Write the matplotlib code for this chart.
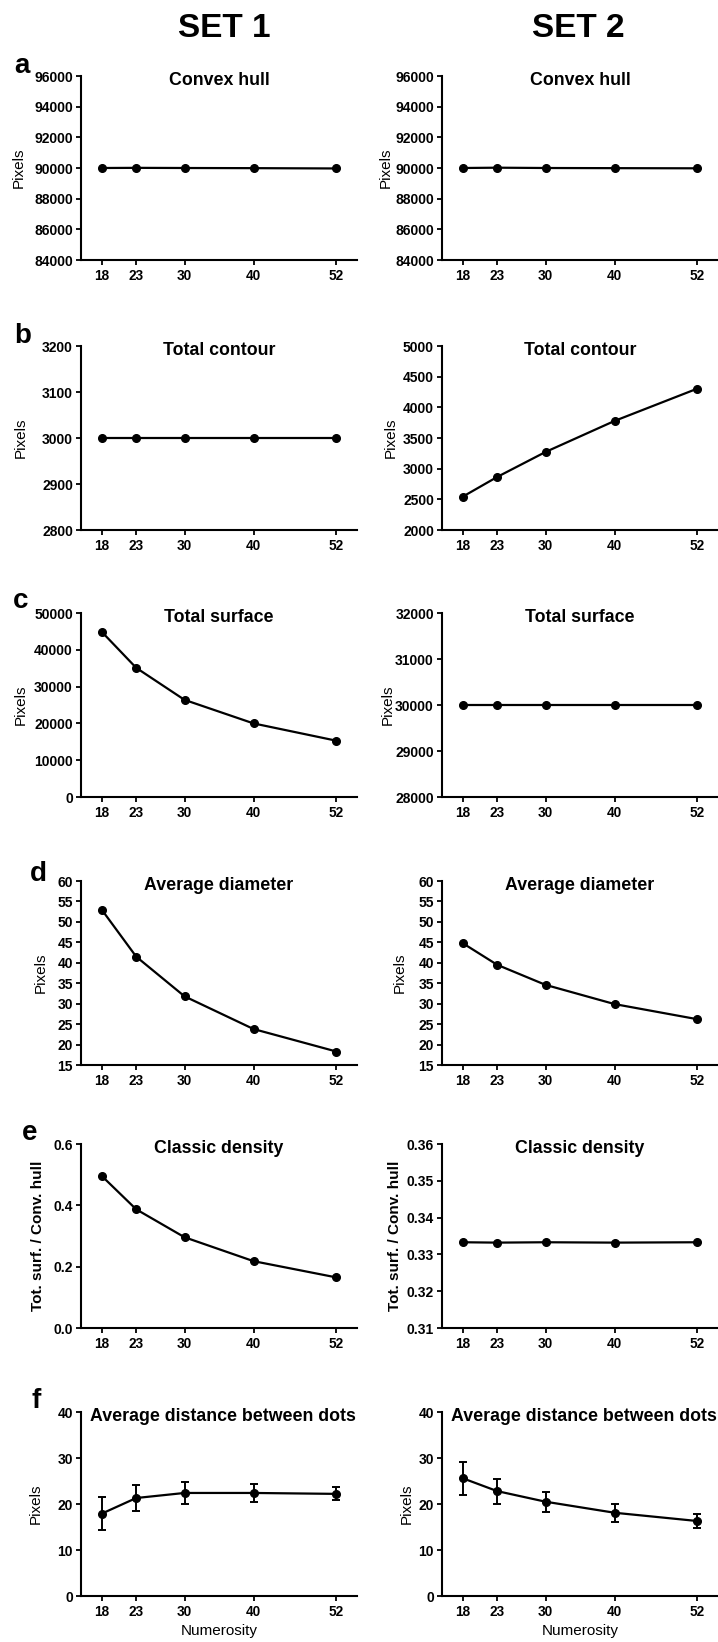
import matplotlib
matplotlib.use('Agg')
import matplotlib.pyplot as plt
from matplotlib.ticker import FormatStrFormatter

# ---- data ----
numerosity = [18, 23, 30, 40, 52]

convex_hull_set1 = [90000, 90010, 90000, 89990, 89970]
convex_hull_set2 = [90000, 90020, 90000, 89990, 89980]

total_contour_set1 = [3000, 3000, 3000, 3000, 3000]
total_contour_set2 = [2543, 2865, 3272, 3778, 4305]

total_surface_set1 = [44900, 35100, 26400, 20000, 15300]
total_surface_set2 = [30000, 30000, 30000, 30000, 30000]

avg_diameter_set1 = [53.0, 41.5, 31.8, 23.8, 18.3]
avg_diameter_set2 = [44.8, 39.5, 34.6, 29.9, 26.2]

density_set1 = [0.496, 0.387, 0.296, 0.218, 0.165]
density_set2 = [0.3333, 0.3332, 0.3333, 0.3332, 0.3333]

distance_set1 = [17.9, 21.3, 22.4, 22.4, 22.2]
distance_set1_err = [3.65, 2.9, 2.4, 2.05, 1.4]
distance_set2 = [25.6, 22.8, 20.5, 18.1, 16.3]
distance_set2_err = [3.6, 2.7, 2.2, 2.0, 1.6]

titles = ["Convex hull", "Total contour", "Total surface",
          "Average diameter", "Classic density", "Average distance between dots"]
panel_letters = ["a", "b", "c", "d", "e", "f"]
ylabels = ["Pixels", "Pixels", "Pixels", "Pixels", "Tot. surf. / Conv. hull", "Pixels"]

set1_values = [convex_hull_set1, total_contour_set1, total_surface_set1,
               avg_diameter_set1, density_set1, distance_set1]
set2_values = [convex_hull_set2, total_contour_set2, total_surface_set2,
               avg_diameter_set2, density_set2, distance_set2]
set1_errors = [None, None, None, None, None, distance_set1_err]
set2_errors = [None, None, None, None, None, distance_set2_err]

set1_ylim = [(84000, 96000, 2000), (2800, 3200, 100), (0, 50000, 10000),
             (15, 60, 5), (0.0, 0.6, 0.2), (0, 40, 10)]
set2_ylim = [(84000, 96000, 2000), (2000, 5000, 500), (28000, 32000, 1000),
             (15, 60, 5), (0.31, 0.36, 0.01), (0, 40, 10)]
set1_fmt = ["%d", "%d", "%d", "%d", "%.1f", "%d"]
set2_fmt = ["%d", "%d", "%d", "%d", "%.2f", "%d"]

# ---- layout (pixels) ----
W, H = 718, 1642
row_tops = [76, 346, 613, 881, 1144, 1412]
ax_h = 184
ax_w = 276
col_x = [81, 442]
ylabel_x = [[19, 21, 21, 41, 38, 36], [386, 391, 388, 400, 395, 407]]
letter_pos = [(14, 73), (14, 343), (13, 608), (30, 881), (22, 1140), (31, 1408)]
title_shift = [0, 0, 0, 0, 0, 4]

plt.rcParams['font.family'] = ['Liberation Sans', 'DejaVu Sans']

fig = plt.figure(figsize=(W / 100, H / 100), dpi=100)


def draw_panel(ax, values, errors, ylim, fmt, title, ylabel, lab_x, x0, bold_ylabel, shift):
    lo, hi, step = ylim
    if errors is None:
        ax.plot(numerosity, values, color='black', lw=1.6, marker='o',
                markersize=5.5, clip_on=False, zorder=3)
    else:
        ax.errorbar(numerosity, values, yerr=errors, color='black', lw=1.6,
                    marker='o', markersize=5.5, capsize=3, capthick=1.4,
                    elinewidth=1.4, clip_on=False, zorder=3)
    ax.set_xlim(15, 55)
    ax.set_ylim(lo, hi)
    n = int(round((hi - lo) / step))
    ax.set_yticks([lo + i * step for i in range(n + 1)])
    ax.set_xticks(numerosity)
    ax.yaxis.set_major_formatter(FormatStrFormatter(fmt))
    for s in ['top', 'right']:
        ax.spines[s].set_visible(False)
    for s in ['left', 'bottom']:
        ax.spines[s].set_linewidth(1.5)
    ax.tick_params(axis='both', direction='out', length=3.8, width=1.3, colors='black')
    ax.tick_params(axis='y', pad=2, labelsize=10)
    ax.tick_params(axis='x', pad=3, labelsize=9.8)
    for lbl in ax.get_xticklabels() + ax.get_yticklabels():
        lbl.set_fontweight('bold')
    ax.text(0.5 + shift / ax_w, 1.0 + 4 / ax_h, title, transform=ax.transAxes,
            ha='center', va='top', fontsize=12.8, fontweight='bold', clip_on=False)
    ax.set_ylabel(ylabel, fontsize=11,
                  fontweight='bold' if bold_ylabel else 'normal')
    ax.yaxis.set_label_coords((lab_x - x0) / ax_w, 0.5)
    ax.yaxis.label.set_va('center')


for i in range(6):
    top = row_tops[i]
    for c in range(2):
        x0 = col_x[c]
        ax = fig.add_axes([x0 / W, 1 - (top + ax_h) / H, ax_w / W, ax_h / H])
        if c == 0:
            draw_panel(ax, set1_values[i], set1_errors[i], set1_ylim[i], set1_fmt[i],
                       titles[i], ylabels[i], ylabel_x[0][i], x0, i == 4, title_shift[i])
        else:
            draw_panel(ax, set2_values[i], set2_errors[i], set2_ylim[i], set2_fmt[i],
                       titles[i], ylabels[i], ylabel_x[1][i], x0, i == 4, title_shift[i])
        if i == 5:
            ax.set_xlabel("Numerosity", fontsize=11, labelpad=3)
    lx, ly = letter_pos[i]
    fig.text(lx / W, 1 - ly / H, panel_letters[i], ha='left', va='baseline',
             fontsize=20, fontweight='bold')

fig.text(224 / W, 1 - 37 / H, "SET 1", ha='center', va='baseline',
         fontsize=24, fontweight='bold')
fig.text(578 / W, 1 - 37 / H, "SET 2", ha='center', va='baseline',
         fontsize=24, fontweight='bold')

fig.savefig("out.png", dpi=100)
